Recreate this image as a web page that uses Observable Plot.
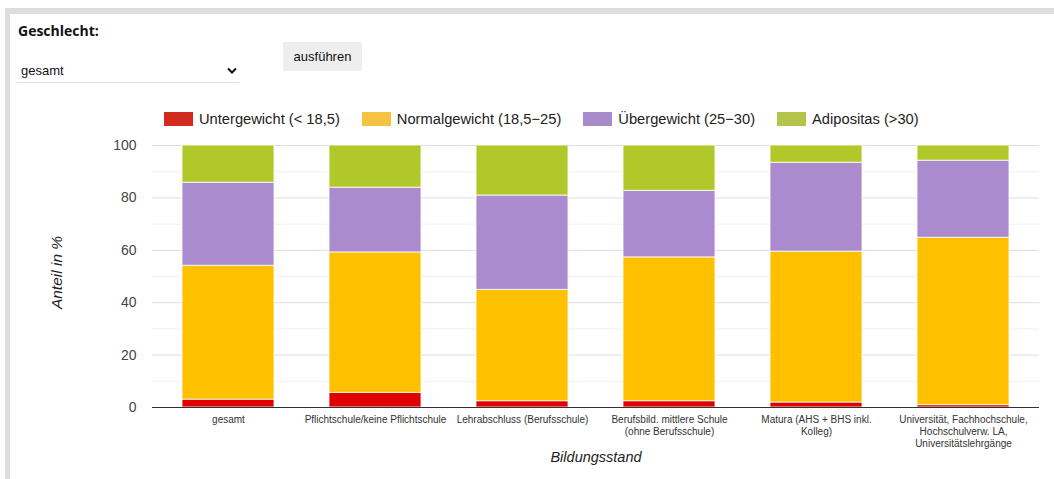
<!DOCTYPE html>
<html>
<head>
<meta charset="utf-8">
<script src="https://cdn.jsdelivr.net/npm/d3@7"></script>
<script src="https://cdn.jsdelivr.net/npm/@observablehq/plot@0.6"></script>
<style>
  html, body { margin: 0; padding: 0; background: #fff; width: 1054px; height: 479px; overflow: hidden; font-family: "Liberation Sans", Arial, sans-serif; }
  #frame { position: absolute; left: 5px; top: 8px; width: 1100px; height: 500px; border-top: 6px solid #dddddd; border-left: 5px solid #dddddd; }
  #lab { position: absolute; left: 18px; top: 21px; font-family: "Open Sans", sans-serif; font-weight: 700; font-size: 14px; color: #111; }
  #sel { position: absolute; left: 17px; top: 60px; width: 222px; height: 22px; border-bottom: 1px solid #dddddd; font-size: 13px; color: #111; }
  #sel span { position: absolute; left: 4px; top: 3px; }
  #sel svg { position: absolute; left: 210px; top: 7px; }
  #btn { position: absolute; left: 283px; top: 42px; width: 79px; height: 29px; background: #eeeeee; font-size: 13px; color: #111; text-align: center; line-height: 29px; border-radius: 2px; }
  #legend { position: absolute; left: 164px; top: 111px; display: flex; gap: 22px; font-size: 14.7px; color: #222; }
  #legend .it { display: flex; align-items: center; }
  #legend .sw { width: 29px; height: 14px; margin-right: 6px; }
  #chart { position: absolute; left: 0; top: 135px; }
</style>
</head>
<body>
<div id="frame"></div>
<div id="lab">Geschlecht:</div>
<div id="sel"><span>gesamt</span><svg width="10" height="8"><polyline points="1,1.5 5,5.5 9,1.5" fill="none" stroke="#111" stroke-width="2"/></svg></div>
<div id="btn">ausführen</div>
<div id="legend"></div>
<div id="chart"></div>
<script>
const categories = [
  "gesamt",
  "Pflichtschule/keine Pflichtschule",
  "Lehrabschluss (Berufsschule)",
  "Berufsbild. mittlere Schule\n(ohne Berufsschule)",
  "Matura (AHS + BHS inkl.\nKolleg)",
  "Universität, Fachhochschule,\nHochschulverw. LA,\nUniversitätslehrgänge"
];
const series = ["Untergewicht (< 18,5)", "Normalgewicht (18,5\u221225)", "Übergewicht (25\u221230)", "Adipositas (>30)"];
const untergewicht  = [3.0, 5.6, 2.4, 2.4, 1.9, 0.9];
const normalgewicht = [51.1, 53.6, 42.5, 54.9, 57.6, 63.9];
const uebergewicht  = [31.7, 24.7, 36.0, 25.4, 33.9, 29.4];
const adipositas    = [14.2, 16.1, 19.1, 17.3, 6.6, 5.8];
const barColors    = ["#e00000", "#ffc000", "#a98bce", "#b0c829"];
const legendColors = ["#d22a1f", "#f5c242", "#a78bca", "#b2c54a"];
const yTicks = [0, 20, 40, 60, 80, 100];
const yMinor = [10, 30, 50, 70, 90];

const seriesValues = [untergewicht, normalgewicht, uebergewicht, adipositas];
const data = [];
categories.forEach((c, i) => {
  series.forEach((s, j) => data.push({cat: c, series: s, value: seriesValues[j][i]}));
});

const legend = document.getElementById("legend");
series.forEach((s, j) => {
  const it = document.createElement("div");
  it.className = "it";
  it.innerHTML = `<div class="sw" style="background:${legendColors[j]}"></div><span>${s}</span>`;
  legend.appendChild(it);
});

const chart = Plot.plot({
  width: 1054,
  height: 344,
  marginLeft: 152,
  marginRight: 15,
  marginTop: 10,
  marginBottom: 72,
  style: {fontFamily: "Liberation Sans, Arial, sans-serif", background: "transparent"},
  x: {type: "band", domain: categories, paddingInner: 0.377, paddingOuter: 0.1885, label: null},
  y: {domain: [0, 100], label: null},
  color: {domain: series, range: barColors},
  marks: [
    Plot.ruleY(yMinor, {stroke: "#efefef", strokeWidth: 1}),
    Plot.ruleY(yTicks.filter(d => d > 0), {stroke: "#dddddd", strokeWidth: 1}),
    Plot.barY(data, {x: "cat", y: "value", fill: "series", stroke: "white", strokeWidth: 1, strokeOpacity: 0.8}),
    Plot.ruleY([0], {stroke: "#333", strokeWidth: 1}),
    Plot.axisY({ticks: yTicks, tickSize: 0, tickPadding: 16, fontSize: 14, fill: "#444", label: null}),
    Plot.axisX({tickSize: 0, tickPadding: 7, fontSize: 10, fill: "#333", lineHeight: 1.2, label: null}),
    Plot.text(["Bildungsstand"], {text: d => d, frameAnchor: "bottom", dy: 54, fontSize: 14.5, fontStyle: "italic", fill: "#222"}),
    Plot.text(["Anteil in %"], {text: d => d, frameAnchor: "left", textAnchor: "middle", dx: -95, dy: -4, rotate: -90, fontSize: 15.5, fontStyle: "italic", fill: "#222"})
  ]
});
document.getElementById("chart").appendChild(chart);
</script>
</body>
</html>
